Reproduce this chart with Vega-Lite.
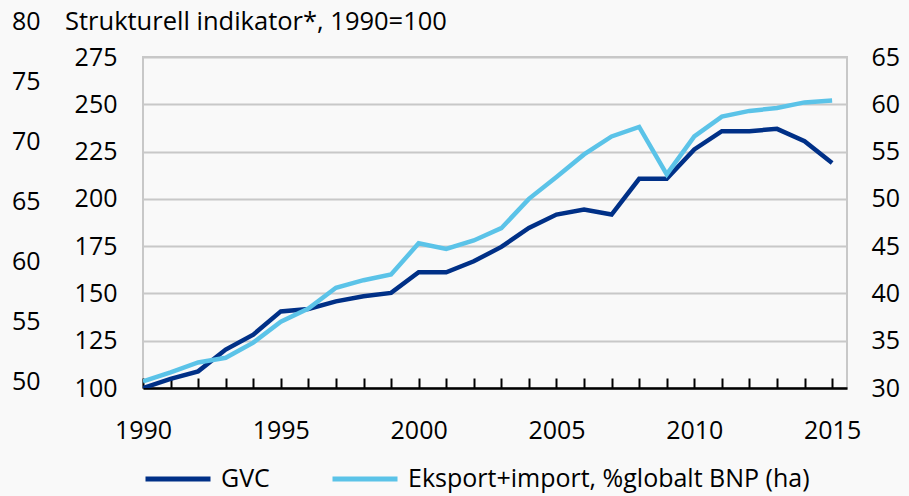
{
  "$schema": "https://vega.github.io/schema/vega-lite/v6.json",
  "autosize": {"type": "none"},
  "width": 704,
  "height": 331,
  "padding": {"left": 143, "top": 57, "right": 62, "bottom": 108},
  "background": "#f9f9f9",
  "title": {
    "text": "Strukturell indikator*, 1990=100",
    "anchor": "start",
    "frame": "group",
    "dx": -78,
    "dy": 50,
    "offset": 4,
    "baseline": "alphabetic",
    "font": "Open Sans",
    "fontSize": 25.5,
    "fontWeight": "normal",
    "color": "#000000"
  },
  "config": {
    "view": {"stroke": "#c8c8c8", "strokeWidth": 2},
    "axis": {
      "labelFont": "Open Sans",
      "labelFontSize": 25,
      "labelColor": "#000000",
      "titleFont": "Open Sans"
    }
  },
  "data": {
    "values": [
      {"year": 1990, "series": "GVC", "value": 100},
      {"year": 1991, "series": "GVC", "value": 104.8},
      {"year": 1992, "series": "GVC", "value": 108.8},
      {"year": 1993, "series": "GVC", "value": 120.3},
      {"year": 1994, "series": "GVC", "value": 128.2},
      {"year": 1995, "series": "GVC", "value": 140.5},
      {"year": 1996, "series": "GVC", "value": 141.8},
      {"year": 1997, "series": "GVC", "value": 145.8},
      {"year": 1998, "series": "GVC", "value": 148.5},
      {"year": 1999, "series": "GVC", "value": 150.3},
      {"year": 2000, "series": "GVC", "value": 161.2},
      {"year": 2001, "series": "GVC", "value": 161.2},
      {"year": 2002, "series": "GVC", "value": 167},
      {"year": 2003, "series": "GVC", "value": 174.6},
      {"year": 2004, "series": "GVC", "value": 184.6},
      {"year": 2005, "series": "GVC", "value": 191.7},
      {"year": 2006, "series": "GVC", "value": 194.3},
      {"year": 2007, "series": "GVC", "value": 191.7},
      {"year": 2008, "series": "GVC", "value": 210.6},
      {"year": 2009, "series": "GVC", "value": 210.6},
      {"year": 2010, "series": "GVC", "value": 226.1},
      {"year": 2011, "series": "GVC", "value": 235.8},
      {"year": 2012, "series": "GVC", "value": 235.8},
      {"year": 2013, "series": "GVC", "value": 237},
      {"year": 2014, "series": "GVC", "value": 230.5},
      {"year": 2015, "series": "GVC", "value": 219},
      {"year": 1990, "series": "Eksport+import, %globalt BNP (ha)", "value": 30.7},
      {"year": 1991, "series": "Eksport+import, %globalt BNP (ha)", "value": 31.66},
      {"year": 1992, "series": "Eksport+import, %globalt BNP (ha)", "value": 32.7},
      {"year": 1993, "series": "Eksport+import, %globalt BNP (ha)", "value": 33.2},
      {"year": 1994, "series": "Eksport+import, %globalt BNP (ha)", "value": 34.8},
      {"year": 1995, "series": "Eksport+import, %globalt BNP (ha)", "value": 37.0},
      {"year": 1996, "series": "Eksport+import, %globalt BNP (ha)", "value": 38.4},
      {"year": 1997, "series": "Eksport+import, %globalt BNP (ha)", "value": 40.6},
      {"year": 1998, "series": "Eksport+import, %globalt BNP (ha)", "value": 41.4},
      {"year": 1999, "series": "Eksport+import, %globalt BNP (ha)", "value": 42.0},
      {"year": 2000, "series": "Eksport+import, %globalt BNP (ha)", "value": 45.3},
      {"year": 2001, "series": "Eksport+import, %globalt BNP (ha)", "value": 44.7},
      {"year": 2002, "series": "Eksport+import, %globalt BNP (ha)", "value": 45.6},
      {"year": 2003, "series": "Eksport+import, %globalt BNP (ha)", "value": 46.9},
      {"year": 2004, "series": "Eksport+import, %globalt BNP (ha)", "value": 50.0},
      {"year": 2005, "series": "Eksport+import, %globalt BNP (ha)", "value": 52.3},
      {"year": 2006, "series": "Eksport+import, %globalt BNP (ha)", "value": 54.7},
      {"year": 2007, "series": "Eksport+import, %globalt BNP (ha)", "value": 56.6},
      {"year": 2008, "series": "Eksport+import, %globalt BNP (ha)", "value": 57.6},
      {"year": 2009, "series": "Eksport+import, %globalt BNP (ha)", "value": 52.6},
      {"year": 2010, "series": "Eksport+import, %globalt BNP (ha)", "value": 56.6},
      {"year": 2011, "series": "Eksport+import, %globalt BNP (ha)", "value": 58.7},
      {"year": 2012, "series": "Eksport+import, %globalt BNP (ha)", "value": 59.3},
      {"year": 2013, "series": "Eksport+import, %globalt BNP (ha)", "value": 59.6},
      {"year": 2014, "series": "Eksport+import, %globalt BNP (ha)", "value": 60.2},
      {"year": 2015, "series": "Eksport+import, %globalt BNP (ha)", "value": 60.4}
    ]
  },
  "encoding": {
    "x": {
      "field": "year",
      "type": "quantitative",
      "scale": {"domain": [1990, 2015.54], "nice": false, "zero": false},
      "axis": {
        "title": null,
        "values": [1990,1991,1992,1993,1994,1995,1996,1997,1998,1999,2000,2001,2002,2003,2004,2005,2006,2007,2008,2009,2010,2011,2012,2013,2014,2015],
        "format": "d",
        "labelExpr": "datum.value % 5 === 0 ? datum.label : ''",
        "grid": false,
        "domainColor": "#000000",
        "domainWidth": 2.5,
        "tickColor": "#000000",
        "tickWidth": 2,
        "tickSize": -10,
        "labelPadding": 40,
        "labelOverlap": false,
        "labelFlush": false
      }
    },
    "color": {
      "field": "series",
      "type": "nominal",
      "scale": {
        "domain": ["GVC", "Eksport+import, %globalt BNP (ha)"],
        "range": ["#003087", "#5bc3e8"]
      },
      "legend": {
        "orient": "bottom",
        "direction": "horizontal",
        "title": null,
        "symbolType": "stroke",
        "symbolSize": 4225,
        "symbolStrokeWidth": 5,
        "labelFont": "Open Sans",
        "labelFontSize": 25,
        "labelColor": "#000000",
        "labelLimit": 700,
        "labelOffset": 8,
        "columnPadding": 52,
        "offset": 1
      }
    }
  },
  "layer": [
    {
      "transform": [{"filter": "datum.series === 'GVC'"}],
      "mark": {"type": "line", "strokeWidth": 4.5, "clip": true},
      "encoding": {
        "y": {
          "field": "value",
          "type": "quantitative",
          "scale": {"domain": [100, 275], "nice": false, "zero": false},
          "axis": {
            "orient": "left",
            "title": null,
            "values": [100,125,150,175,200,225,250,275],
            "grid": true,
            "gridColor": "#c8c8c8",
            "gridWidth": 2,
            "domain": false,
            "ticks": false,
            "tickSize": 0,
            "labelPadding": 26
          }
        }
      }
    },
    {
      "transform": [{"filter": "datum.series !== 'GVC'"}],
      "mark": {"type": "line", "strokeWidth": 4.5, "clip": true},
      "encoding": {
        "y": {
          "field": "value",
          "type": "quantitative",
          "scale": {"domain": [30, 65], "nice": false, "zero": false},
          "axis": {
            "orient": "right",
            "title": null,
            "values": [30,35,40,45,50,55,60,65],
            "grid": false,
            "domain": false,
            "ticks": false,
            "tickSize": 0,
            "labelPadding": 24
          }
        }
      }
    },
    {
      "transform": [{"filter": "datum.series === 'GVC'"}],
      "mark": {"type": "line", "opacity": 0, "clip": true},
      "encoding": {
        "color": {"value": "#000000"},
        "y": {
          "field": "value",
          "type": "quantitative",
          "scale": {"domain": [50, 80], "range": [324.5, -35.5], "nice": false, "zero": false},
          "axis": {
            "orient": "left",
            "title": null,
            "values": [50,55,60,65,70,75,80],
            "grid": false,
            "domain": false,
            "ticks": false,
            "tickSize": 0,
            "labelPadding": 103
          }
        }
      }
    }
  ],
  "resolve": {"scale": {"y": "independent"}}
}
